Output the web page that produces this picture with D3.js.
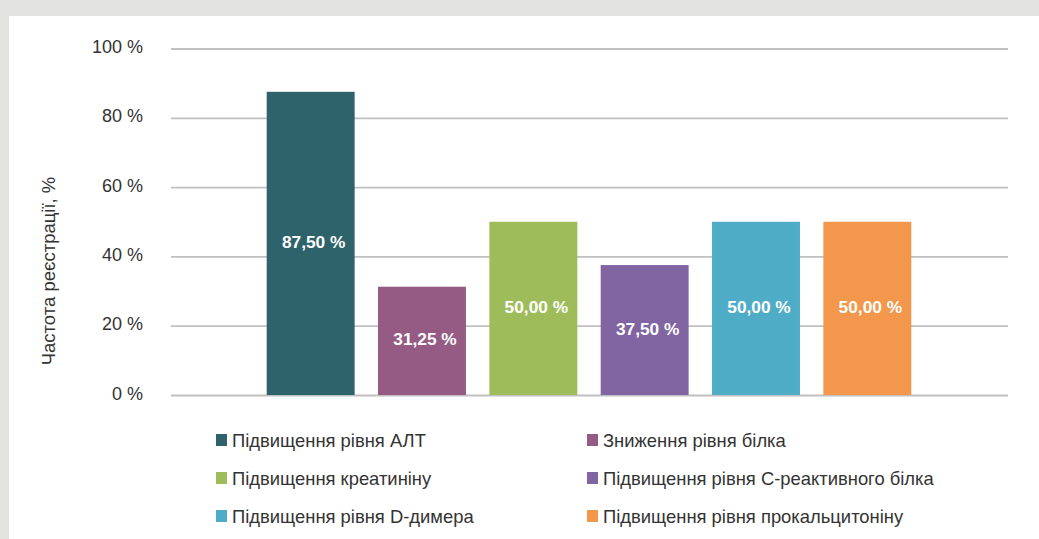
<!DOCTYPE html>
<html>
<head>
<meta charset="utf-8">
<script src="https://cdn.jsdelivr.net/npm/d3@7"></script>
<style>
  html, body { margin: 0; padding: 0; background: #e3e3e1; }
  svg { display: block; }
</style>
</head>
<body>
<svg id="chart" width="1039" height="539"></svg>
<script>
// Частота реєстрації лабораторних змін
const categories = [
  "Підвищення рівня АЛТ",
  "Зниження рівня білка",
  "Підвищення креатиніну",
  "Підвищення рівня С-реактивного білка",
  "Підвищення рівня D-димера",
  "Підвищення рівня прокальцитоніну"
];
const values = [87.5, 31.25, 50.0, 37.5, 50.0, 50.0];
const colors = ["#2e636b", "#965b84", "#9ebd5a", "#8165a3", "#4facc6", "#f2974b"];
const yTicks = [0, 20, 40, 60, 80, 100];
const yTitle = "Частота реєстрації, %";

const fmtPct = v => v.toFixed(2).replace(".", ",") + " %";
const font = "'Liberation Sans', Arial, Helvetica, sans-serif";

const svg = d3.select("#chart");

// white panel
svg.append("rect")
  .attr("x", 9).attr("y", 16)
  .attr("width", 1039 - 9).attr("height", 539 - 16)
  .attr("fill", "#ffffff");

const plot = { left: 171, right: 1008, top: 48.5, bottom: 395 };

const y = d3.scaleLinear().domain([0, 100]).range([plot.bottom, plot.top]);
const x = d3.scaleBand()
  .domain(categories)
  .range([255, 923])
  .paddingInner(0.21)
  .paddingOuter(0.105);

// gridlines + tick labels via axis
const yAxis = d3.axisLeft(y)
  .tickValues(yTicks)
  .tickSize(-(plot.right - plot.left))
  .tickPadding(28)
  .tickFormat(d => d + " %");

const gAxis = svg.append("g")
  .attr("transform", `translate(${plot.left},0)`)
  .call(yAxis);
gAxis.select(".domain").remove();
gAxis.selectAll(".tick line")
  .attr("stroke", "#c0c0c0")
  .attr("stroke-width", 1.8);
gAxis.selectAll(".tick text")
  .attr("font-family", font)
  .attr("font-size", 18)
  .attr("fill", "#333333")
  .attr("dy", null)
  .attr("y", 4);

// y-axis title
svg.append("text")
  .attr("transform", "translate(55,271) rotate(-90)")
  .attr("text-anchor", "middle")
  .attr("font-family", font)
  .attr("font-size", 18.5)
  .attr("fill", "#333333")
  .text(yTitle);

// bars
const data = categories.map((c, i) => ({ cat: c, value: values[i], color: colors[i] }));

svg.append("g").selectAll("rect")
  .data(data)
  .join("rect")
  .attr("x", d => x(d.cat))
  .attr("y", d => y(d.value))
  .attr("width", x.bandwidth())
  .attr("height", d => y(0) - y(d.value))
  .attr("fill", d => d.color);

// value labels
svg.append("g").selectAll("text")
  .data(data)
  .join("text")
  .attr("x", d => x(d.cat) + x.bandwidth() / 2 + 3)
  .attr("y", d => (y(d.value) + y(0)) / 2 + 4.5)
  .attr("text-anchor", "middle")
  .attr("font-family", font)
  .attr("font-weight", "bold")
  .attr("font-size", 17.3)
  .attr("fill", "#ffffff")
  .text(d => fmtPct(d.value));

// legend: two columns, three rows
const legendCols = [216, 587];
const legendRows = [446.5, 484.5, 522.5];
const legend = svg.append("g").selectAll("g")
  .data(data)
  .join("g")
  .attr("transform", (d, i) => `translate(${legendCols[i % 2]},${legendRows[Math.floor(i / 2)]})`);
legend.append("rect")
  .attr("x", 0).attr("y", -12.5)
  .attr("width", 11).attr("height", 12)
  .attr("fill", d => d.color);
legend.append("text")
  .attr("x", 16).attr("y", 0)
  .attr("font-family", font)
  .attr("font-size", 18.4)
  .attr("fill", "#333333")
  .text(d => d.cat);
</script>
</body>
</html>
